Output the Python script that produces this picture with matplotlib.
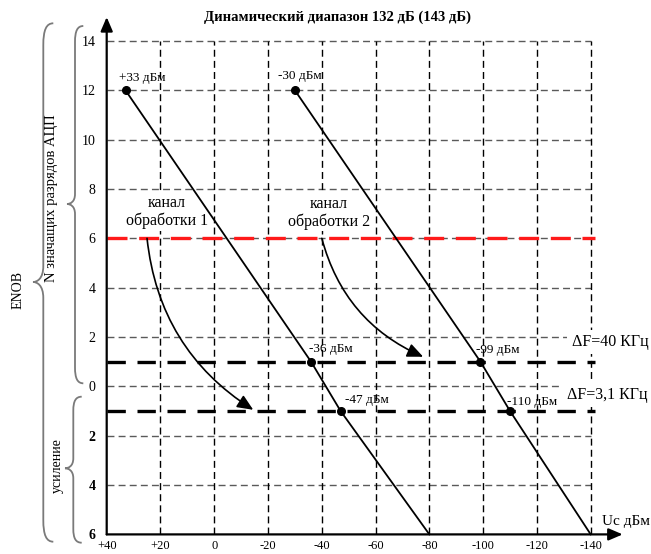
import matplotlib
matplotlib.use("Agg")
import matplotlib.pyplot as plt
from matplotlib.path import Path
from matplotlib.patches import PathPatch

plt.rcParams['font.family'] = ['Liberation Serif', 'DejaVu Serif']

W, H = 651, 554

# Effective bits at each marked point (negative values are gain stages)
levels = [12, 1, -1, -6]
# Input signal level, dBm, for the two processing channels
ch1_dbm = [33, -36, -47, -80]
ch2_dbm = [-30, -99, -110, -140]
ch1_labels = ["+33 дБм", "-36 дБм", "-47 дБм"]
ch2_labels = ["-30 дБм", "-99 дБм", "-110 дБм"]

adc_bits_limit = 6
bw_levels = [1, -1]
bw_labels = ["ΔF=40 КГц", "ΔF=3,1 КГц"]

x_ticks = [40, 20, 0, -20, -40, -60, -80, -100, -120, -140]
x_ticklabels = ["+40", "+20", "0", "-20", "-40", "-60", "-80", "-100", "-120", "-140"]
y_ticks = [14, 12, 10, 8, 6, 4, 2, 0, -2, -4, -6]
y_ticklabels = ["14", "12", "10", "8", "6", "4", "2", "0", "2", "4", "6"]


def fig_xy(x, y):
    """Pixel position (from the top-left corner) to figure fraction."""
    return x / W, 1 - y / H


fig = plt.figure(figsize=(W / 100, H / 100), dpi=100)
fig.patch.set_facecolor("white")
left, top = fig_xy(106.7, 41.0)
right, bottom = fig_xy(590.7, 534.4)
ax = fig.add_axes([left, bottom, right - left, top - bottom])
ax.set_xlim(x_ticks[0], x_ticks[-1])
ax.set_ylim(y_ticks[-1], y_ticks[0])
for s in ax.spines.values():
    s.set_visible(False)
ax.set_facecolor("none")

# grid
for yv in y_ticks[:-1]:
    ax.plot([x_ticks[0], x_ticks[-1]], [yv, yv], color="#5a5a5a", lw=1.0,
            ls=(0, (5, 3)), clip_on=False, zorder=1)
for xv in x_ticks[1:]:
    ax.plot([xv, xv], [y_ticks[-1], y_ticks[0]], color="black", lw=1.0,
            ls=(0, (5, 3)), clip_on=False, zorder=1)

# ADC resolution limit and bandwidth levels
ax.plot([x_ticks[0], -141.5], [adc_bits_limit] * 2, color="#ff1a1a", lw=2.4,
        ls=(0, (6, 3.5)), clip_on=False, zorder=2)
for yv in bw_levels:
    ax.plot([x_ticks[0], -141.5], [yv, yv], color="black", lw=2.4,
            ls=(0, (5.5, 3.5)), clip_on=False, zorder=2)

# channel lines
for xs in (ch1_dbm, ch2_dbm):
    ax.plot(xs, levels, color="black", lw=1.3, zorder=4, clip_on=False)
    ax.plot(xs[:3], levels[:3], "o", color="black", ms=5.5, zorder=5, clip_on=False)

ch1_offsets = [(-7, 12), (-2, 12.7), (4, 11)]
ch2_offsets = [(-17, 14.3), (-4, 11.7), (-3, 9.3)]
for xs, labs, offs in ((ch1_dbm, ch1_labels, ch1_offsets),
                       (ch2_dbm, ch2_labels, ch2_offsets)):
    for xv, yv, lab, off in zip(xs, levels, labs, offs):
        ax.annotate(lab, (xv, yv), xytext=off, textcoords="offset pixels",
                    ha="left", va="center", fontsize=9.5, zorder=6)

# bandwidth labels
bw_pos = [(-132.9, 1.81), (-131.1, -0.35)]
for (xv, yv), lab in zip(bw_pos, bw_labels):
    ax.text(xv, yv, lab, ha="left", va="center", fontsize=11.5, zorder=6,
            bbox=dict(facecolor="white", edgecolor="none", pad=3))

# channel captions
for xv, yv, lab in ((17.7, 7.07, "канал\nобработки 1"),
                    (-42.7, 7.04, "канал\nобработки 2")):
    ax.text(xv, yv, lab, ha="center", va="center", fontsize=11.5,
            linespacing=1.15, zorder=3,
            bbox=dict(facecolor="white", edgecolor="none", pad=1))

# curved arrows from the ADC limit to the bandwidth levels
for start, end in (((25, 6), (-14.5, -0.95)), ((-40, 6), (-77.7, 1.2))):
    ax.annotate("", xy=end, xytext=start,
                arrowprops=dict(arrowstyle="-|>,head_length=0.8,head_width=0.35",
                                connectionstyle="arc3,rad=0.24", color="black",
                                lw=1.2, shrinkA=0, shrinkB=0, mutation_scale=12),
                zorder=4)

# axes with arrows
ax.annotate("", xy=(40, 14.97), xytext=(40, -6),
            arrowprops=dict(arrowstyle="-|>,head_length=0.7,head_width=0.3",
                            color="black", lw=1.6, shrinkA=0, shrinkB=0,
                            mutation_scale=12), annotation_clip=False, zorder=6)
ax.annotate("", xy=(-151.9, -6), xytext=(40, -6),
            arrowprops=dict(arrowstyle="-|>,head_length=0.7,head_width=0.3",
                            color="black", lw=1.6, shrinkA=0, shrinkB=0,
                            mutation_scale=12), annotation_clip=False, zorder=6)

# ticks
ax.set_xticks(x_ticks)
ax.set_xticklabels(x_ticklabels, fontsize=9)
ax.set_yticks(y_ticks)
ax.set_yticklabels(y_ticklabels, fontsize=10)
for lab in ax.get_yticklabels()[-3:]:
    lab.set_fontweight("bold")
ax.tick_params(axis="x", length=0, pad=4)
ax.tick_params(axis="y", length=0, pad=8)

# titles and side captions
fig.text(*fig_xy(337.8, 17), "Динамический диапазон 132 дБ (143 дБ)",
         ha="center", va="center", fontsize=10.5, fontweight="bold")
fig.text(*fig_xy(601.7, 521.7), "Uс дБм", ha="left", va="center", fontsize=11)
fig.text(*fig_xy(18, 290), "ENOB", rotation=90, ha="center", va="center", fontsize=10)
fig.text(*fig_xy(51.7, 198), "N значащих разрядов АЦП", rotation=90,
         ha="center", va="center", fontsize=10.5)
fig.text(*fig_xy(57.3, 466), "усиление", rotation=90, ha="center", va="center",
         fontsize=10)


def brace(x_end, x_body, x_tip, y_top, y_mid, y_bot, r=18, rt=14):
    pts = [
        (x_end, y_top),
        (x_body + 0.3 * (x_end - x_body), y_top), (x_body, y_top + 0.3 * r), (x_body, y_top + r),
        (x_body, y_mid - rt),
        (x_body, y_mid - 0.2 * rt), (x_tip + 0.4 * (x_body - x_tip), y_mid), (x_tip, y_mid),
        (x_tip + 0.4 * (x_body - x_tip), y_mid), (x_body, y_mid + 0.2 * rt), (x_body, y_mid + rt),
        (x_body, y_bot - r),
        (x_body, y_bot - 0.3 * r), (x_body + 0.3 * (x_end - x_body), y_bot), (x_end, y_bot),
    ]
    codes = ([Path.MOVETO] + [Path.CURVE4] * 3 + [Path.LINETO] + [Path.CURVE4] * 6
             + [Path.LINETO] + [Path.CURVE4] * 3)
    verts = [fig_xy(x, y) for x, y in pts]
    fig.add_artist(PathPatch(Path(verts, codes), transform=fig.transFigure,
                             facecolor="none", edgecolor="#7a7a7a", lw=1.3))


brace(53.3, 43.3, 33, 23.3, 282, 541.7, r=22, rt=16)
brace(83.3, 75, 67, 26, 204, 383.3, r=16, rt=10)
brace(81.7, 73.3, 65, 396.7, 468.3, 542.7, r=14, rt=10)

fig.savefig("out.png", dpi=100, facecolor="white")
